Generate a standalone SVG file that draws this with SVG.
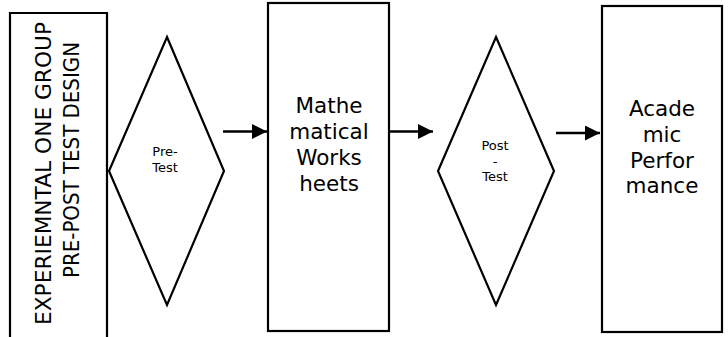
<svg xmlns="http://www.w3.org/2000/svg" width="728" height="337" viewBox="0 0 728 337">
<style>
.shape{fill:#fff;stroke:#000;stroke-width:2.2}
.t{font-family:"DejaVu Sans","Verdana",sans-serif;fill:#000;text-anchor:middle}
.big{font-size:21.5px}
.small{font-size:13px}
.vert{font-size:21px}
.conn{stroke:#000;stroke-width:2.5;fill:none}
</style>
<defs>
<marker id="arr" markerWidth="16" markerHeight="16" refX="15" refY="7.5" markerUnits="userSpaceOnUse" orient="auto">
<path d="M0,0 L15,7.5 L0,15 Z" fill="#000"/>
</marker>
</defs>
<rect width="728" height="337" fill="#fff"/>
<g id="design-label">
<path class="shape" d="M10,345 V13 H107 V345"/>
<text class="t vert" transform="translate(51,173.5) rotate(-90)" textLength="303" lengthAdjust="spacingAndGlyphs">EXPERIEMNTAL ONE GROUP</text>
<text class="t vert" transform="translate(79,160) rotate(-90)" textLength="236" lengthAdjust="spacingAndGlyphs">PRE-POST TEST DESIGN</text>
</g>
<g id="pre-test">
<polygon class="shape" points="167,37 224,171 167,305 109,171"/>
<text class="t small" x="165" y="156">Pre-</text>
<text class="t small" x="165" y="171.5">Test</text>
</g>
<g id="worksheets">
<rect class="shape" x="268" y="3" width="121" height="328"/>
<text class="t big" x="329" y="113">Mathe</text>
<text class="t big" x="329" y="139">matical</text>
<text class="t big" x="329" y="165">Works</text>
<text class="t big" x="329" y="191">heets</text>
</g>
<g id="post-test">
<polygon class="shape" points="496,37 554,171 496,305 438,171"/>
<text class="t small" x="495" y="150">Post</text>
<text class="t small" x="495" y="165.5">-</text>
<text class="t small" x="495" y="181">Test</text>
</g>
<g id="performance">
<rect class="shape" x="602" y="6" width="120" height="326"/>
<text class="t big" x="662" y="116">Acade</text>
<text class="t big" x="662" y="142">mic</text>
<text class="t big" x="662" y="168">Perfor</text>
<text class="t big" x="662" y="193">mance</text>
</g>
<g id="connectors">
<line class="conn" x1="223" y1="131.5" x2="267" y2="131.5" marker-end="url(#arr)"/>
<line class="conn" x1="390" y1="131.5" x2="433" y2="131.5" marker-end="url(#arr)"/>
<line class="conn" x1="556" y1="133" x2="600" y2="133" marker-end="url(#arr)"/>
</g>
</svg>
